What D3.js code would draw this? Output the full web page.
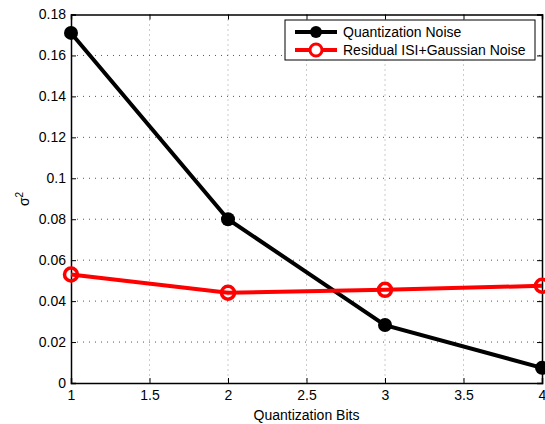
<!DOCTYPE html>
<html>
<head>
<meta charset="utf-8">
<script src="https://cdn.jsdelivr.net/npm/d3@7"></script>
<style>
body{margin:0;background:#fff;}
text{font-family:"Liberation Sans",Arial,sans-serif;}
</style>
</head>
<body>
<svg id="chart" width="545" height="424"></svg>
<script>
const bits = [1, 2, 3, 4]
const quantNoise = [0.171, 0.080, 0.0283, 0.0074]
const residualNoise = [0.053, 0.0441, 0.0455, 0.0475]
const xTicks = [1, 1.5, 2, 2.5, 3, 3.5, 4]
const yTicks = [0, 0.02, 0.04, 0.06, 0.08, 0.1, 0.12, 0.14, 0.16, 0.18]
const seriesNames = ["Quantization Noise", "Residual ISI+Gaussian Noise"]

const svg = d3.select("#chart")
const m = {left:71, right:542, top:14.5, bottom:383}
const fs = 14

const x = d3.scaleLinear().domain([1,4]).range([m.left,m.right])
const y = d3.scaleLinear().domain([0,0.18]).range([m.bottom,m.top])

// grid
svg.append("g").selectAll("line").data(xTicks.slice(1,-1)).enter().append("line")
	.attr("x1",d=>x(d)).attr("x2",d=>x(d)).attr("y1",m.top).attr("y2",m.bottom)
	.attr("stroke","#999").attr("stroke-width",1).attr("stroke-dasharray","1,4")
svg.append("g").selectAll("line").data(yTicks.slice(1,-1)).enter().append("line")
	.attr("x1",m.left).attr("x2",m.right).attr("y1",d=>y(d)).attr("y2",d=>y(d))
	.attr("stroke","#555").attr("stroke-width",1).attr("stroke-dasharray","1,5")

// axes
const fmt = d=>String(+d.toFixed(2))
svg.append("g").attr("transform","translate(0,"+m.bottom+")")
	.call(d3.axisBottom(x).tickValues(xTicks).tickSize(-5).tickPadding(7).tickFormat(fmt))
svg.append("g").attr("transform","translate(0,"+m.top+")")
	.call(d3.axisTop(x).tickValues(xTicks).tickSize(-5).tickFormat(""))
svg.append("g").attr("transform","translate("+m.left+",0)")
	.call(d3.axisLeft(y).tickValues(yTicks).tickSize(-5).tickPadding(5).tickFormat(fmt))
svg.append("g").attr("transform","translate("+m.right+",0)")
	.call(d3.axisRight(y).tickValues(yTicks).tickSize(-5).tickFormat(""))
svg.selectAll(".domain").attr("stroke","#000").attr("stroke-width",1.5)
svg.selectAll(".tick line").attr("stroke","#000")
svg.selectAll(".tick text").attr("font-size",fs).attr("fill","#000")
	.style("font-family","'Liberation Sans',Arial,sans-serif")

// labels
svg.append("text").attr("x",(m.left+m.right)/2).attr("y",420).attr("text-anchor","middle")
	.attr("font-size",fs).text("Quantization Bits")
svg.append("text").attr("transform","translate(29,199) rotate(-90)").attr("text-anchor","middle")
	.attr("font-size",fs).html("σ<tspan dy='-6' font-size='10'>2</tspan>")

// series
const line = d3.line().x((d,i)=>x(bits[i])).y(d=>y(d))
svg.append("path").datum(quantNoise).attr("d",line).attr("fill","none")
	.attr("stroke","#000").attr("stroke-width",4)
svg.append("path").datum(residualNoise).attr("d",line).attr("fill","none")
	.attr("stroke","#f00").attr("stroke-width",4)
svg.append("g").selectAll("circle").data(quantNoise).enter().append("circle")
	.attr("cx",(d,i)=>x(bits[i])).attr("cy",d=>y(d)).attr("r",7).attr("fill","#000")
svg.append("g").selectAll("circle").data(residualNoise).enter().append("circle")
	.attr("cx",(d,i)=>x(bits[i])).attr("cy",d=>y(d)).attr("r",6.5)
	.attr("fill","none").attr("stroke","#f00").attr("stroke-width",3.5)

// legend
const lg = svg.append("g")
lg.append("rect").attr("x",285).attr("y",20).attr("width",250).attr("height",40)
	.attr("fill","#fff").attr("stroke","#000").attr("stroke-width",1)
seriesNames.forEach((name,i)=>{
	const yy = 32+i*18
	const col = i==0 ? "#000" : "#f00"
	lg.append("line").attr("x1",295).attr("x2",337).attr("y1",yy).attr("y2",yy)
		.attr("stroke",col).attr("stroke-width",4)
	lg.append("circle").attr("cx",316).attr("cy",yy).attr("r",6)
		.attr("fill",i==0 ? "#000" : "#fff").attr("stroke",col).attr("stroke-width",i==0?0:3)
	lg.append("text").attr("x",343).attr("y",yy+5).attr("font-size",fs).text(name)
})
</script>
</body>
</html>
